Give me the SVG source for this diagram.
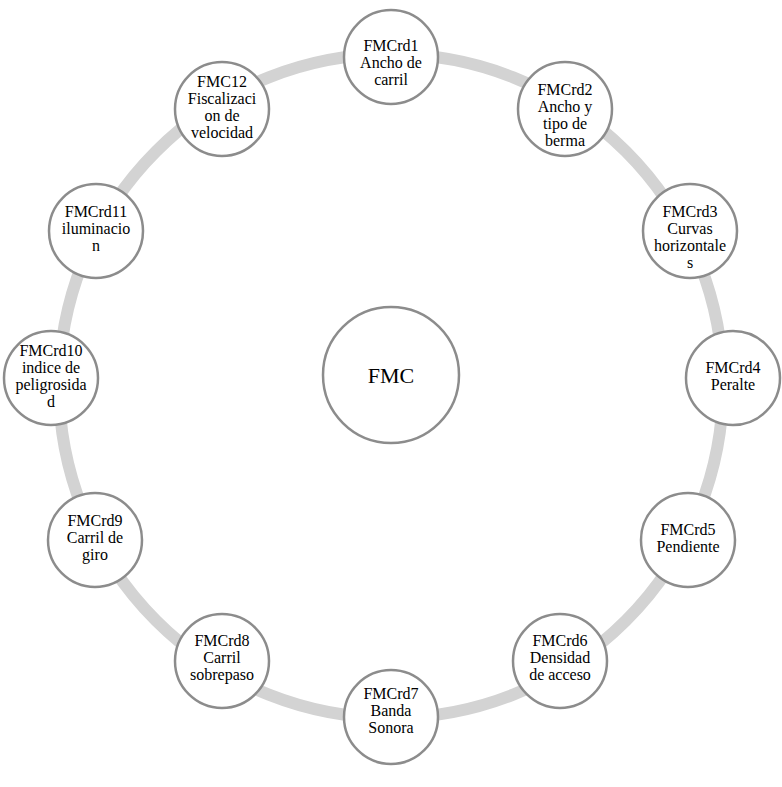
<svg xmlns="http://www.w3.org/2000/svg" width="782" height="787" viewBox="0 0 782 787">
<style>
.ring{fill:none;stroke:#d3d3d3;stroke-width:12}
.node{fill:#ffffff;stroke:#8c8c8c;stroke-width:2.5}
text{font-family:"Liberation Serif","Times New Roman",serif;font-size:16px;fill:#000;text-anchor:middle}
.big{font-size:22px}
</style>
<rect width="782" height="787" fill="#ffffff"/>
<g id="connectors">
<circle class="ring" cx="391" cy="386" r="332"/>
</g>
<g id="FMC"><circle class="node" cx="391" cy="375" r="68"/><text class="big" x="391" y="383">FMC</text></g>
<g id="FMCrd1"><circle class="node" cx="391" cy="57" r="47"/><text x="391" y="51">FMCrd1</text><text x="391" y="68">Ancho de</text><text x="391" y="85">carril</text></g>
<g id="FMCrd2"><circle class="node" cx="565" cy="109" r="47"/><text x="565" y="95">FMCrd2</text><text x="565" y="112">Ancho y</text><text x="565" y="129">tipo de</text><text x="565" y="146">berma</text></g>
<g id="FMCrd3"><circle class="node" cx="690" cy="231" r="47"/><text x="690" y="217">FMCrd3</text><text x="690" y="234">Curvas</text><text x="690" y="251">horizontale</text><text x="690" y="268">s</text></g>
<g id="FMCrd4"><circle class="node" cx="733" cy="378" r="47"/><text x="733" y="373">FMCrd4</text><text x="733" y="390">Peralte</text></g>
<g id="FMCrd5"><circle class="node" cx="688" cy="540" r="47"/><text x="688" y="535">FMCrd5</text><text x="688" y="552">Pendiente</text></g>
<g id="FMCrd6"><circle class="node" cx="560" cy="661" r="47"/><text x="560" y="646">FMCrd6</text><text x="560" y="663">Densidad</text><text x="560" y="680">de acceso</text></g>
<g id="FMCrd7"><circle class="node" cx="391" cy="717" r="47"/><text x="391" y="699">FMCrd7</text><text x="391" y="716">Banda</text><text x="391" y="733">Sonora</text></g>
<g id="FMCrd8"><circle class="node" cx="222" cy="661" r="47"/><text x="222" y="646">FMCrd8</text><text x="222" y="663">Carril</text><text x="222" y="680">sobrepaso</text></g>
<g id="FMCrd9"><circle class="node" cx="95" cy="540" r="47"/><text x="95" y="526">FMCrd9</text><text x="95" y="543">Carril de</text><text x="95" y="560">giro</text></g>
<g id="FMCrd10"><circle class="node" cx="51" cy="378" r="47"/><text x="51" y="356">FMCrd10</text><text x="51" y="373">indice de</text><text x="51" y="390">peligrosida</text><text x="51" y="407">d</text></g>
<g id="FMCrd11"><circle class="node" cx="96" cy="231" r="47"/><text x="96" y="217">FMCrd11</text><text x="96" y="234">iluminacio</text><text x="96" y="251">n</text></g>
<g id="FMC12"><circle class="node" cx="222" cy="109" r="47"/><text x="222" y="87">FMC12</text><text x="222" y="104">Fiscalizaci</text><text x="222" y="121">on de</text><text x="222" y="138">velocidad</text></g>
</svg>
